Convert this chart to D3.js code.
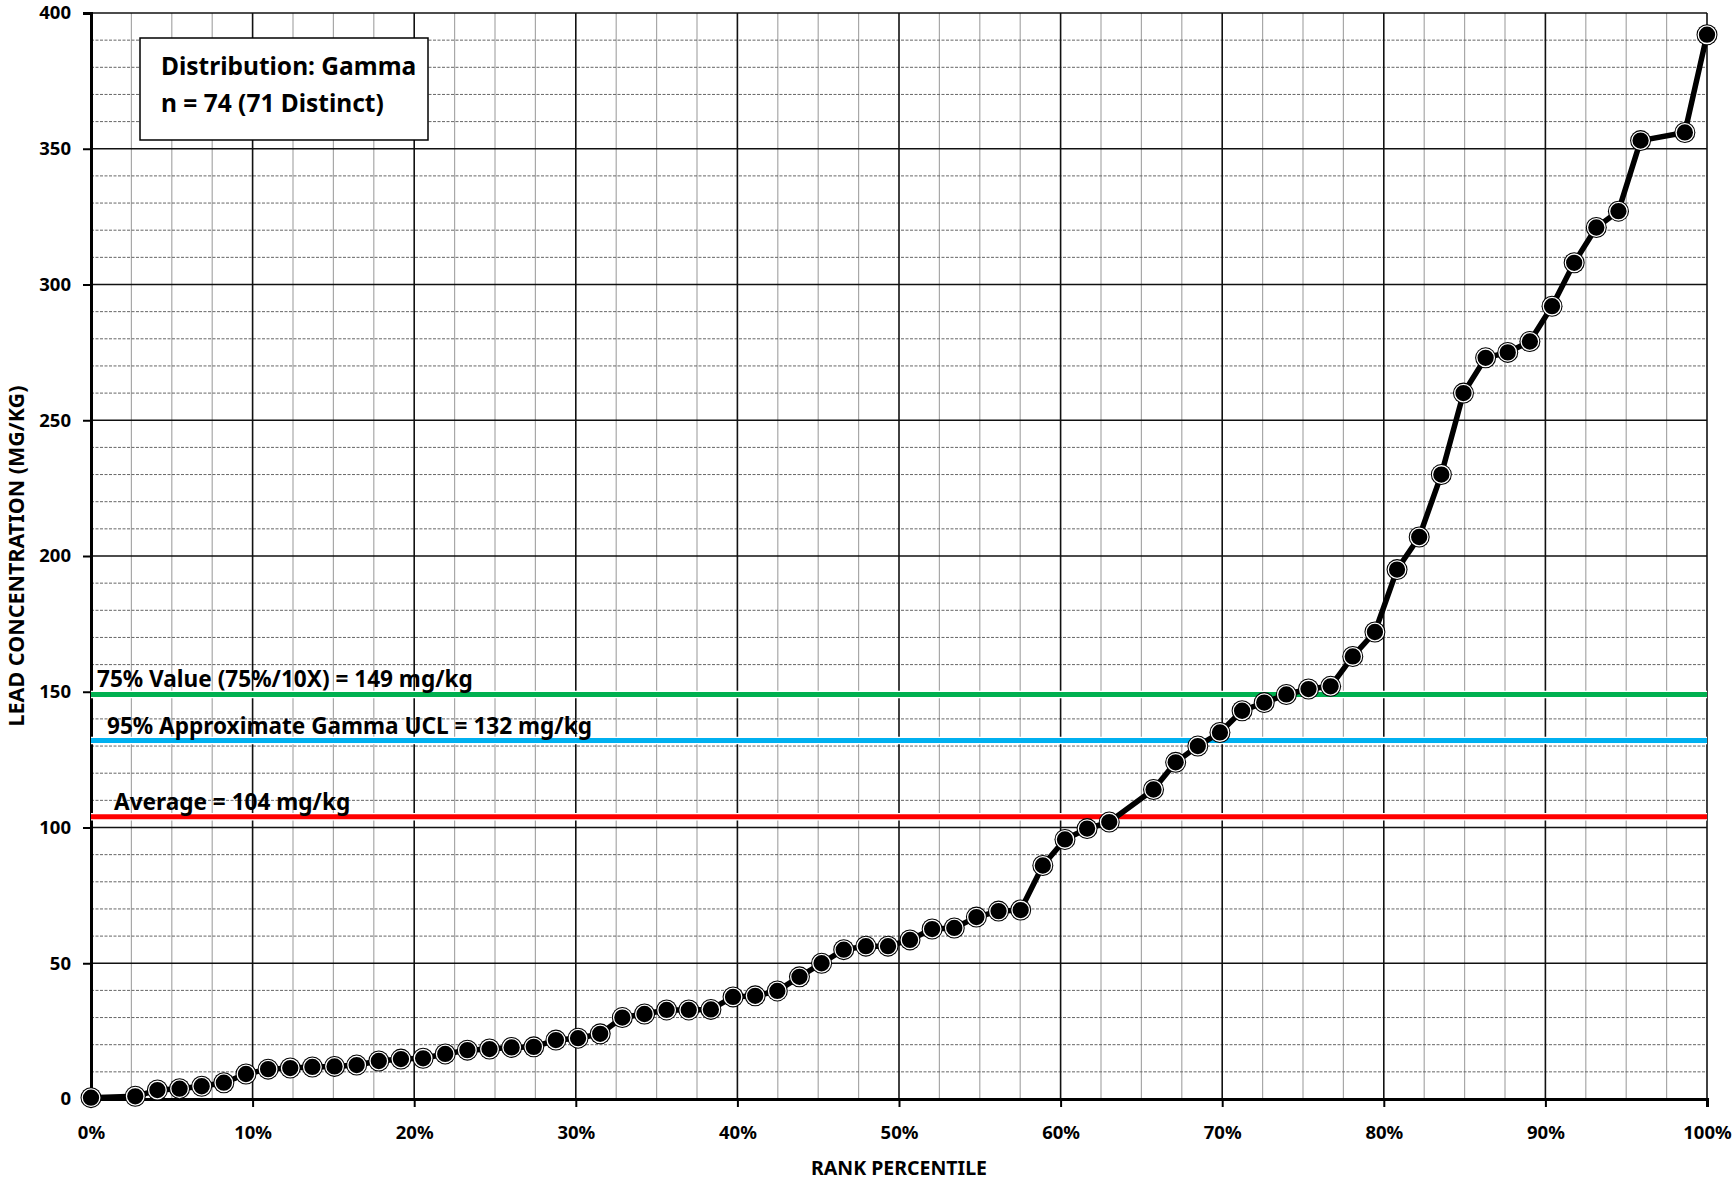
<!DOCTYPE html>
<html>
<head>
<meta charset="utf-8">
<script src="https://cdn.jsdelivr.net/npm/d3@7"></script>
<style>
  html, body { margin: 0; padding: 0; background: #fff; }
  svg { display: block; font-family: "Noto Sans", "Liberation Sans", sans-serif; }
</style>
</head>
<body>
<div id="chart"></div>
<script>
// rank percentile (%) of each distinct value
var percentiles = [0, 2.74, 4.11, 5.48, 6.85, 8.22, 9.59, 10.96, 12.33, 13.70,
    15.07, 16.44, 17.81, 19.18, 20.55, 21.92, 23.29, 24.66, 26.03, 27.40,
    28.77, 30.14, 31.51, 32.88, 34.25, 35.62, 36.99, 38.36, 39.73, 41.10,
    42.47, 43.84, 45.21, 46.58, 47.95, 49.32, 50.68, 52.05, 53.42, 54.79,
    56.16, 57.53, 58.90, 60.27, 61.64, 63.01, 65.75, 67.12, 68.49, 69.86,
    71.23, 72.60, 73.97, 75.34, 76.71, 78.08, 79.45, 80.82, 82.19, 83.56,
    84.93, 86.30, 87.67, 89.04, 90.41, 91.78, 93.15, 94.52, 95.89, 98.63, 100];

// lead concentration, mg/kg
var concentrations = [0.5, 1, 3.3, 3.8, 4.7, 6, 9.2, 11, 11.4, 11.8,
    12, 12.5, 14, 14.7, 15, 16.6, 18, 18.4, 19, 19.2,
    21.7, 22.4, 24, 30, 31.3, 32.8, 32.8, 33, 37.6, 38,
    39.8, 45, 50, 55, 56.3, 56.3, 58.6, 62.6, 63, 67,
    69.2, 69.6, 86, 95.6, 99.6, 102, 114, 124, 130, 135,
    143, 146, 149, 151, 152, 163, 172, 195, 207, 230,
    260, 273, 275, 279, 292, 308, 321, 327, 353, 356, 392];

var refValues = [149, 132, 104];
var refLabels = ["75% Value (75%/10X) = 149 mg/kg",
                 "95% Approximate Gamma UCL = 132 mg/kg",
                 "Average = 104 mg/kg"];
var refColors = ["#00b050", "#00b0f0", "#ff0000"];

var infoLines = ["Distribution: Gamma", "n = 74 (71 Distinct)"];

var xTicks = [0, 10, 20, 30, 40, 50, 60, 70, 80, 90, 100];
var yTicks = [0, 50, 100, 150, 200, 250, 300, 350, 400];

const width = 1736, height = 1181;
const margin = { top: 13, right: 29, bottom: 82, left: 91 };
const iw = width - margin.left - margin.right;
const ih = height - margin.top - margin.bottom;

var svg = d3.select("#chart").append("svg")
    .attr("width", width)
    .attr("height", height);

var g = svg.append("g")
    .attr("transform", `translate(${margin.left},${margin.top})`);

var x = d3.scaleLinear().domain([0, 100]).range([0, iw]);
var y = d3.scaleLinear().domain([0, 400]).range([ih, 0]);

// minor grid
g.append("g").selectAll("line")
    .data(d3.range(0, 100.01, 2.5).filter(d => d % 10 !== 0))
    .join("line")
    .attr("x1", d => x(d)).attr("x2", d => x(d))
    .attr("y1", 0).attr("y2", ih)
    .attr("stroke", "#a8a8a8")
    .attr("stroke-width", 1.2);

g.append("g").selectAll("line")
    .data(d3.range(0, 400.01, 10).filter(d => d % 50 !== 0))
    .join("line")
    .attr("x1", 0).attr("x2", iw)
    .attr("y1", d => y(d)).attr("y2", d => y(d))
    .attr("stroke", "#666")
    .attr("stroke-width", 1)
    .attr("stroke-dasharray", "3,1.5");

// major grid
g.append("g").selectAll("line")
    .data(xTicks.slice(1))
    .join("line")
    .attr("x1", d => x(d)).attr("x2", d => x(d))
    .attr("y1", 0).attr("y2", ih)
    .attr("stroke", "#111")
    .attr("stroke-width", 1.6);

g.append("g").selectAll("line")
    .data(yTicks.slice(1))
    .join("line")
    .attr("x1", 0).attr("x2", iw)
    .attr("y1", d => y(d)).attr("y2", d => y(d))
    .attr("stroke", "#111")
    .attr("stroke-width", 1.6);

// axes
var yAxis = g.append("g")
    .call(d3.axisLeft(y).tickValues(yTicks).tickSize(8).tickPadding(12).tickFormat(d3.format("d")));
var xAxis = g.append("g")
    .attr("transform", `translate(0,${ih})`)
    .call(d3.axisBottom(x).tickValues(xTicks).tickSize(8).tickPadding(19).tickFormat(d => d + "%"));

[yAxis, xAxis].forEach(a => {
    a.select(".domain").attr("stroke", "#000").attr("stroke-width", 3);
    a.selectAll(".tick line").attr("stroke", "#000").attr("stroke-width", 2);
    a.selectAll(".tick text")
        .attr("fill", "#000")
        .style("font-family", "'Noto Sans', sans-serif")
        .style("font-weight", "bold")
        .style("font-size", "18.5px");
});

// info box
var box = g.append("g").attr("transform", `translate(${140 - margin.left},${38 - margin.top})`);
box.append("rect")
    .attr("width", 288).attr("height", 102)
    .attr("fill", "#fff").attr("stroke", "#000").attr("stroke-width", 1.5);
box.selectAll("text")
    .data(infoLines)
    .join("text")
    .attr("x", 21)
    .attr("y", (d, i) => 37 + i * 37)
    .style("font-size", "24.5px")
    .style("font-weight", "bold")
    .text(d => d);

// reference lines
var refs = g.append("g").selectAll("g")
    .data(refValues)
    .join("g");

refs.append("line")
    .attr("x1", 0).attr("x2", iw)
    .attr("y1", d => y(d)).attr("y2", d => y(d))
    .attr("stroke", "#fff").attr("stroke-width", 7.5);
refs.append("line")
    .attr("x1", 0).attr("x2", iw)
    .attr("y1", d => y(d)).attr("y2", d => y(d))
    .attr("stroke", (d, i) => refColors[i]).attr("stroke-width", 5);

var labelX = [6, 16, 23];
refs.append("text")
    .attr("x", (d, i) => labelX[i])
    .attr("y", d => y(d) - 7)
    .style("font-size", "22.6px")
    .style("font-weight", "bold")
    .text((d, i) => refLabels[i]);

// data line and markers
var pts = percentiles.map((p, i) => ({ p, v: concentrations[i] }));

var line = d3.line()
    .x(d => x(d.p))
    .y(d => y(d.v));

g.append("path")
    .datum(pts)
    .attr("fill", "none")
    .attr("stroke", "#000")
    .attr("stroke-width", 5.5)
    .attr("stroke-linejoin", "round")
    .attr("d", line);

var marks = g.append("g").selectAll("g")
    .data(pts)
    .join("g")
    .attr("transform", d => `translate(${x(d.p)},${y(d.v)})`);
marks.append("circle").attr("r", 10.5).attr("fill", "#000");
marks.append("circle").attr("r", 8.8).attr("fill", "none").attr("stroke", "#fff").attr("stroke-width", 1.3);

// axis titles
svg.append("text")
    .attr("x", margin.left + iw / 2)
    .attr("y", 1175)
    .attr("text-anchor", "middle")
    .style("font-size", "19.5px")
    .style("font-weight", "bold")
    .text("RANK PERCENTILE");

svg.append("text")
    .attr("transform", `translate(24,${margin.top + ih / 2}) rotate(-90)`)
    .attr("text-anchor", "middle")
    .style("font-size", "21.5px")
    .style("font-weight", "bold")
    .text("LEAD CONCENTRATION (MG/KG)");
</script>
</body>
</html>
